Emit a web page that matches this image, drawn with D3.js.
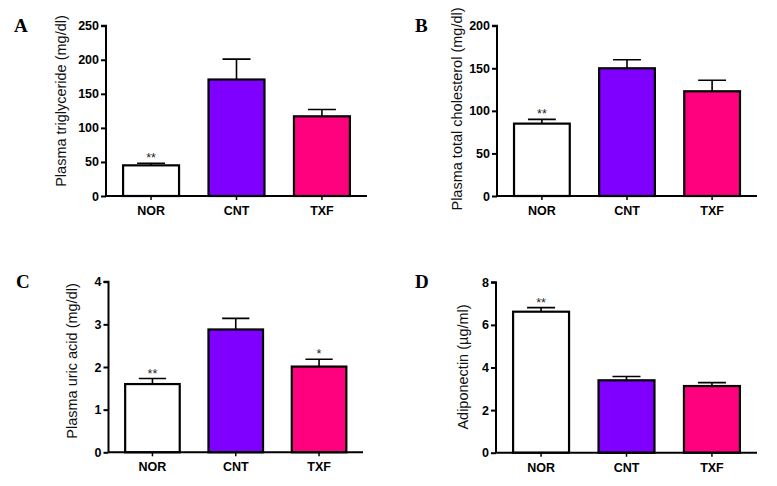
<!DOCTYPE html>
<html>
<head>
<meta charset="utf-8">
<script src="https://cdn.jsdelivr.net/npm/d3@7"></script>
<style>
    body { margin: 0; background: #fff; }
    svg { display: block; }
</style>
</head>
<body>
<div id="chart"></div>
<script>
var groups = ["NOR", "CNT", "TXF"];
var groupColors = ["#ffffff", "#7f00ff", "#ff007f"];

var triglyceride = [45, 171, 117];
var triglycerideErr = [3, 30, 10];
var triglycerideSig = ["**", "", ""];

var cholesterol = [85, 150, 123];
var cholesterolErr = [5, 10, 13];
var cholesterolSig = ["**", "", ""];

var uricAcid = [1.6, 2.88, 2.01];
var uricAcidErr = [0.13, 0.26, 0.17];
var uricAcidSig = ["**", "", "*"];

var adiponectin = [6.62, 3.4, 3.13];
var adiponectinErr = [0.19, 0.18, 0.16];
var adiponectinSig = ["**", "", ""];

var width = 777;
var height = 486;

const svg = d3.select("#chart").append("svg")
    .attr("width", width)
    .attr("height", height)
    .attr("viewBox", [0, 0, width, height]);

function drawPanel(p) {
    var x = d3.scaleBand()
        .domain(groups)
        .range([p.left, p.right])
        .paddingInner(0.345)
        .paddingOuter(0.2);

    var y = d3.scaleLinear()
        .domain([0, p.max])
        .range([p.bottom, p.top]);

    var g = svg.append("g");

    var rows = groups.map((d, i) => ({ name: d, value: p.values[i], err: p.errs[i], sig: p.sig[i], color: groupColors[i] }));

    // error bars (upper only), drawn before the bars
    g.append("g")
        .attr("stroke", "#000")
        .attr("stroke-width", 1.6)
        .selectAll("path")
        .data(rows)
        .join("path")
        .attr("fill", "none")
        .attr("d", d => {
            var cx = x(d.name) + x.bandwidth() / 2;
            var hw = x.bandwidth() / 4;
            return `M${cx},${y(d.value)}V${y(d.value + d.err)}M${cx - hw},${y(d.value + d.err)}H${cx + hw}`;
        });

    g.append("g")
        .selectAll("rect")
        .data(rows)
        .join("rect")
        .attr("x", d => x(d.name))
        .attr("y", d => y(d.value))
        .attr("width", x.bandwidth())
        .attr("height", d => y(0) - y(d.value))
        .attr("fill", d => d.color)
        .attr("stroke", "#000")
        .attr("stroke-width", 2.2);

    g.append("g")
        .attr("font-family", "Arial, 'Liberation Sans', sans-serif")
        .attr("font-size", 12.5)
        .attr("text-anchor", "middle")
        .attr("fill", "#222")
        .selectAll("text")
        .data(rows.filter(d => d.sig))
        .join("text")
        .attr("x", d => x(d.name) + x.bandwidth() / 2)
        .attr("y", d => y(d.value + d.err) - 1)
        .text(d => d.sig);

    // y axis
    g.append("g")
        .attr("transform", `translate(${p.left},0)`)
        .call(d3.axisLeft(y).tickValues(p.ticks).tickSize(5).tickPadding(2).tickFormat(d3.format("d")))
        .call(a => a.select(".domain").attr("stroke-width", 2).attr("d", `M-5,${p.top}H0V${p.bottom}`))
        .call(a => a.selectAll(".tick line").attr("stroke-width", 2))
        .call(a => a.selectAll("text")
            .attr("font-family", "Arial, 'Liberation Sans', sans-serif")
            .attr("font-size", 12.5)
            .attr("font-weight", "bold")
            .attr("fill", "#000"));

    // x axis
    g.append("g")
        .attr("transform", `translate(0,${p.bottom})`)
        .call(d3.axisBottom(x).tickSize(4).tickPadding(6))
        .call(a => a.select(".domain").attr("stroke-width", 2).attr("d", `M${p.left},0H${p.right}`))
        .call(a => a.selectAll(".tick line").attr("stroke-width", 1.5))
        .call(a => a.selectAll("text")
            .attr("font-family", "Arial, 'Liberation Sans', sans-serif")
            .attr("font-size", 12.5)
            .attr("font-weight", "bold")
            .attr("fill", "#000"));

    g.append("text")
        .attr("transform", `translate(${p.labelX},${p.labelY}) rotate(-90)`)
        .attr("text-anchor", "middle")
        .attr("font-family", "Arial, 'Liberation Sans', sans-serif")
        .attr("font-size", 14.5)
        .attr("fill", "#111")
        .text(p.label);

    g.append("text")
        .attr("x", p.letterX)
        .attr("y", p.letterY)
        .attr("font-family", "'Times New Roman', 'Liberation Serif', serif")
        .attr("font-size", 19)
        .attr("font-weight", "bold")
        .attr("fill", "#000")
        .text(p.letter);
}

drawPanel({
    letter: "A", letterX: 14, letterY: 32,
    label: "Plasma triglyceride (mg/dl)", labelX: 66, labelY: 101,
    values: triglyceride, errs: triglycerideErr, sig: triglycerideSig,
    max: 250, ticks: [0, 50, 100, 150, 200, 250],
    left: 106, right: 367, top: 25.7, bottom: 196
});

drawPanel({
    letter: "B", letterX: 415, letterY: 32,
    label: "Plasma total cholesterol (mg/dl)", labelX: 462, labelY: 109,
    values: cholesterol, errs: cholesterolErr, sig: cholesterolSig,
    max: 200, ticks: [0, 50, 100, 150, 200],
    left: 497, right: 757, top: 25.7, bottom: 196
});

drawPanel({
    letter: "C", letterX: 16, letterY: 288,
    label: "Plasma uric acid (mg/dl)", labelX: 77, labelY: 361,
    values: uricAcid, errs: uricAcidErr, sig: uricAcidSig,
    max: 4, ticks: [0, 1, 2, 3, 4],
    left: 108.5, right: 363, top: 281.7, bottom: 452.3
});

drawPanel({
    letter: "D", letterX: 415, letterY: 288,
    label: "Adiponectin (\u00b5g/ml)", labelX: 468, labelY: 367,
    values: adiponectin, errs: adiponectinErr, sig: adiponectinSig,
    max: 8, ticks: [0, 2, 4, 6, 8],
    left: 496, right: 757, top: 282.3, bottom: 452.7
});
</script>
</body>
</html>
